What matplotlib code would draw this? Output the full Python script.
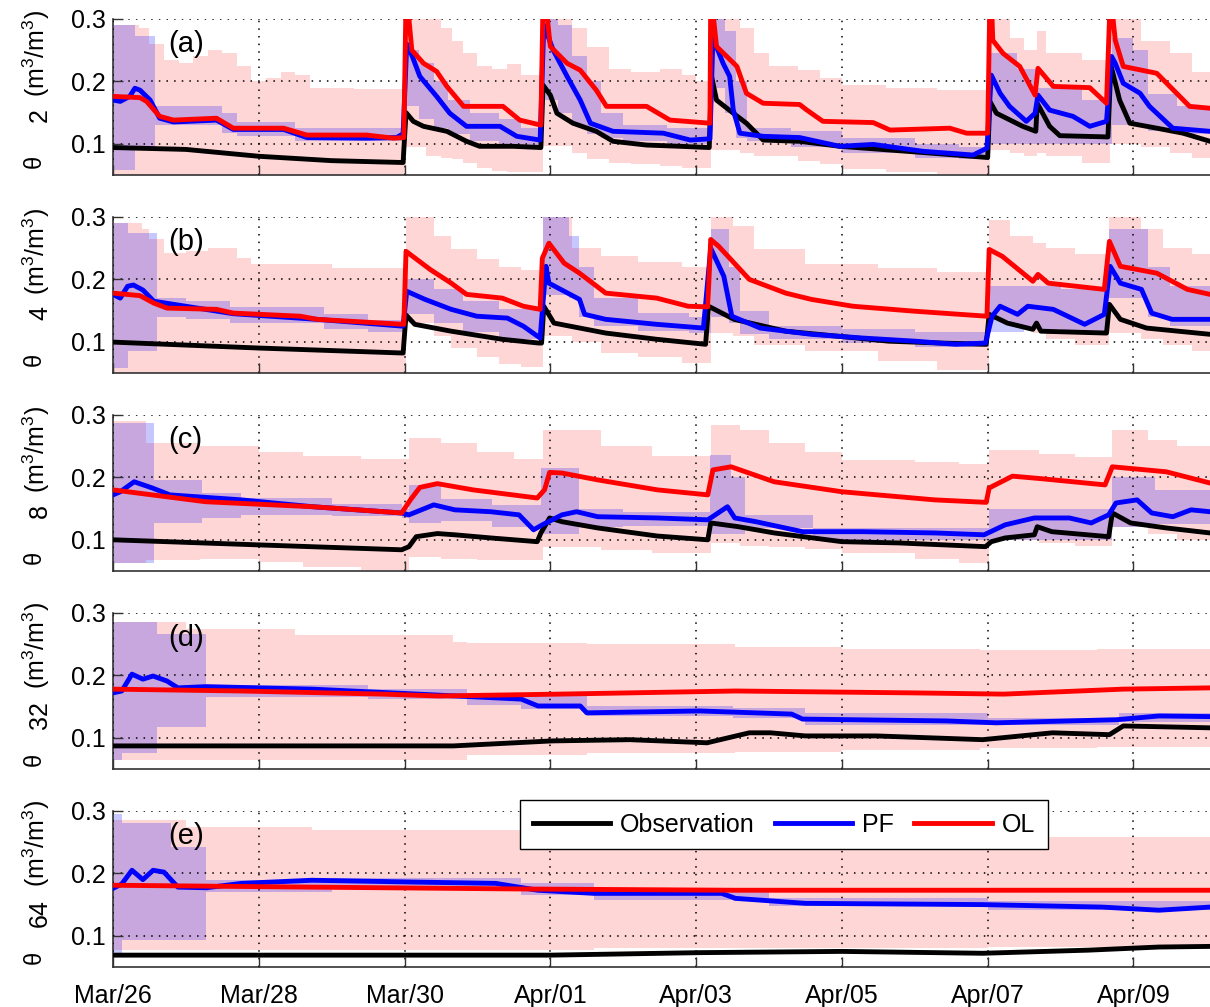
import matplotlib
matplotlib.use('Agg')
import matplotlib.pyplot as plt
import numpy as np
from matplotlib.lines import Line2D

plt.rcParams['font.family'] = ['Liberation Sans', 'DejaVu Sans']
plt.rcParams['mathtext.fontset'] = 'custom'
plt.rcParams['mathtext.rm'] = 'Liberation Sans'
plt.rcParams['mathtext.it'] = 'Liberation Sans:italic'
plt.rcParams['font.size'] = 18

# time axis: days since Mar/26 00:00
tick_days = [0, 2, 4, 6, 8, 10, 12, 14]
tick_labels = ['Mar/26', 'Mar/28', 'Mar/30', 'Apr/01', 'Apr/03', 'Apr/05', 'Apr/07', 'Apr/09']
depths = ['2', '4', '8', '32', '64']
panel_tags = ['(a)', '(b)', '(c)', '(d)', '(e)']

# ---------------- panel (a): 2 cm ----------------
obs_a = [(0, 0.094), (1.0, 0.091), (2.0, 0.080), (3.0, 0.073), (3.98, 0.070), (4.02, 0.150),
         (4.12, 0.136), (4.26, 0.128), (4.58, 0.120), (4.85, 0.104), (5.03, 0.096), (5.49, 0.096),
         (5.87, 0.094), (5.9, 0.194), (6.0, 0.178), (6.09, 0.149), (6.31, 0.133), (6.63, 0.120),
         (6.86, 0.104), (7.32, 0.098), (7.78, 0.096), (8.18, 0.094), (8.21, 0.209), (8.28, 0.170),
         (8.51, 0.149), (8.69, 0.133), (8.92, 0.106), (9.42, 0.104), (9.97, 0.096), (10.66, 0.090),
         (11.34, 0.084), (12.0, 0.078), (12.03, 0.168), (12.12, 0.149), (12.48, 0.128), (12.66, 0.120),
         (12.68, 0.165), (12.85, 0.128), (12.99, 0.113), (13.65, 0.111), (13.69, 0.226), (13.81, 0.170),
         (13.95, 0.133), (14.32, 0.125), (14.68, 0.117), (15.05, 0.104)]
pf_a = [(0, 0.170), (0.1, 0.168), (0.23, 0.176), (0.3, 0.189), (0.37, 0.186), (0.51, 0.170),
        (0.64, 0.141), (0.83, 0.135), (1.42, 0.138), (1.65, 0.123), (2.34, 0.123), (2.66, 0.110),
        (3.48, 0.109), (3.89, 0.110), (3.98, 0.116), (4.03, 0.260), (4.1, 0.242), (4.21, 0.208),
        (4.44, 0.176), (4.62, 0.149), (4.85, 0.128), (5.31, 0.128), (5.54, 0.112), (5.86, 0.106),
        (5.91, 0.290), (6.04, 0.250), (6.23, 0.208), (6.41, 0.170), (6.55, 0.133), (6.86, 0.120),
        (7.55, 0.117), (7.92, 0.106), (8.19, 0.108), (8.23, 0.270), (8.37, 0.229), (8.46, 0.208),
        (8.51, 0.154), (8.6, 0.117), (8.92, 0.112), (9.42, 0.110), (9.97, 0.096), (10.43, 0.099),
        (11.11, 0.088), (11.8, 0.082), (11.99, 0.093), (12.05, 0.210), (12.17, 0.181), (12.3, 0.160),
        (12.53, 0.136), (12.65, 0.149), (12.69, 0.178), (12.85, 0.154), (13.17, 0.144), (13.4, 0.128),
        (13.63, 0.136), (13.7, 0.240), (13.75, 0.229), (13.86, 0.197), (14.09, 0.181), (14.22, 0.160),
        (14.54, 0.125), (15.05, 0.120)]
ol_a = [(0, 0.176), (0.37, 0.174), (0.46, 0.168), (0.64, 0.144), (0.83, 0.138), (1.42, 0.141),
        (1.65, 0.125), (2.34, 0.125), (2.66, 0.114), (3.48, 0.114), (3.85, 0.109), (3.99, 0.110),
        (4.02, 0.33), (4.06, 0.30), (4.1, 0.250), (4.26, 0.229), (4.44, 0.216), (4.58, 0.192),
        (4.81, 0.160), (5.35, 0.160), (5.58, 0.138), (5.87, 0.130), (5.9, 0.33), (5.96, 0.30),
        (6.0, 0.256), (6.23, 0.229), (6.41, 0.218), (6.63, 0.186), (6.77, 0.160), (7.32, 0.160),
        (7.64, 0.138), (8.19, 0.133), (8.2, 0.33), (8.24, 0.30), (8.28, 0.256), (8.42, 0.240),
        (8.56, 0.224), (8.69, 0.181), (8.92, 0.165), (9.42, 0.163), (9.52, 0.154), (9.74, 0.136),
        (10.43, 0.134), (10.66, 0.122), (11.48, 0.125), (11.71, 0.117), (12.0, 0.117), (12.03, 0.33),
        (12.06, 0.30), (12.07, 0.266), (12.21, 0.245), (12.44, 0.224), (12.65, 0.178), (12.69, 0.221),
        (12.9, 0.192), (13.4, 0.190), (13.63, 0.165), (13.68, 0.33), (13.72, 0.30), (13.75, 0.266),
        (13.86, 0.224), (14.32, 0.213), (14.77, 0.160), (15.05, 0.157)]
# ensemble ranges (day, low, high)
olb_a = [(0, 0.05, 0.29), (0.35, 0.05, 0.285), (0.5, 0.05, 0.26), (0.7, 0.05, 0.235), (0.9, 0.05, 0.23),
         (1.1, 0.05, 0.24), (1.3, 0.05, 0.25), (1.5, 0.05, 0.245), (1.7, 0.05, 0.225), (1.9, 0.05, 0.20),
         (2.1, 0.05, 0.205), (2.3, 0.05, 0.215), (2.5, 0.05, 0.21), (2.7, 0.05, 0.19), (3.3, 0.05, 0.188),
         (4.02, 0.095, 0.31), (4.3, 0.08, 0.31), (4.5, 0.078, 0.285), (4.65, 0.075, 0.265), (4.8, 0.07, 0.245),
         (5.0, 0.062, 0.225), (5.2, 0.056, 0.22), (5.4, 0.055, 0.228), (5.6, 0.055, 0.21), (5.9, 0.096, 0.31),
         (6.3, 0.085, 0.285), (6.5, 0.075, 0.255), (6.8, 0.07, 0.22), (7.1, 0.067, 0.215), (7.5, 0.065, 0.22),
         (7.8, 0.062, 0.21), (8.0, 0.062, 0.2), (8.2, 0.09, 0.31), (8.6, 0.085, 0.285), (8.8, 0.08, 0.245),
         (9.0, 0.08, 0.225), (9.4, 0.072, 0.218), (9.7, 0.067, 0.205), (10.0, 0.06, 0.195), (10.6, 0.055, 0.19),
         (11.3, 0.052, 0.186), (12.03, 0.09, 0.31), (12.3, 0.085, 0.27), (12.5, 0.08, 0.25), (12.67, 0.085, 0.28),
         (12.8, 0.08, 0.245), (13.3, 0.07, 0.235), (13.68, 0.1, 0.31), (14.1, 0.095, 0.265), (14.5, 0.085, 0.245),
         (14.8, 0.078, 0.215), (15.05, 0.075, 0.2)]
pfb_a = [(0, 0.058, 0.29), (0.3, 0.09, 0.272), (0.58, 0.13, 0.16), (1.5, 0.118, 0.15), (1.7, 0.113, 0.135),
         (2.5, 0.105, 0.125), (3.7, 0.105, 0.125), (4.02, 0.16, 0.25), (4.2, 0.14, 0.23), (4.4, 0.125, 0.2),
         (4.6, 0.115, 0.17), (4.9, 0.105, 0.15), (5.3, 0.1, 0.14), (5.6, 0.095, 0.125), (5.9, 0.17, 0.3),
         (6.1, 0.15, 0.29), (6.3, 0.13, 0.24), (6.5, 0.115, 0.2), (6.7, 0.11, 0.15), (7.0, 0.105, 0.13),
         (7.6, 0.1, 0.125), (8.2, 0.19, 0.3), (8.4, 0.15, 0.28), (8.55, 0.11, 0.2), (8.7, 0.105, 0.125),
         (9.3, 0.095, 0.12), (10.0, 0.085, 0.11), (11.0, 0.078, 0.1), (11.6, 0.075, 0.095), (12.03, 0.1, 0.245),
         (12.4, 0.1, 0.22), (12.68, 0.1, 0.19), (13.3, 0.1, 0.17), (13.7, 0.13, 0.27), (14.0, 0.13, 0.25),
         (14.2, 0.12, 0.18), (14.6, 0.115, 0.16), (15.05, 0.115, 0.16)]

# ---------------- panel (b): 4 cm ----------------
obs_b = [(0, 0.0995), (2.0, 0.09), (3.98, 0.082), (4.02, 0.143), (4.14, 0.128), (4.64, 0.117),
         (5.34, 0.104), (5.84, 0.098), (5.88, 0.098), (5.91, 0.157), (6.05, 0.130), (6.76, 0.114),
         (7.46, 0.104), (8.13, 0.096), (8.17, 0.157), (8.52, 0.136), (9.23, 0.117), (9.94, 0.109),
         (10.64, 0.101), (11.35, 0.098), (11.98, 0.096), (12.02, 0.144), (12.27, 0.130), (12.62, 0.120),
         (12.67, 0.13), (12.73, 0.117), (13.63, 0.114), (13.67, 0.16), (13.82, 0.136), (14.18, 0.122),
         (15.05, 0.112)]
pf_b = [(0, 0.176), (0.1, 0.17), (0.2, 0.189), (0.28, 0.191), (0.41, 0.183), (0.56, 0.165), (1.65, 0.145),
        (2.8, 0.136), (3.98, 0.125), (4.03, 0.181), (4.28, 0.168), (4.64, 0.152), (4.99, 0.141), (5.41, 0.138),
        (5.63, 0.125), (5.86, 0.106), (5.94, 0.221), (5.98, 0.194), (6.19, 0.181), (6.4, 0.168), (6.47, 0.144),
        (6.76, 0.136), (7.46, 0.128), (8.1, 0.122), (8.2, 0.25), (8.38, 0.205), (8.49, 0.141), (8.88, 0.122),
        (9.58, 0.112), (10.29, 0.106), (11.0, 0.101), (11.56, 0.096), (11.97, 0.098), (12.06, 0.141),
        (12.17, 0.157), (12.41, 0.144), (12.55, 0.157), (12.9, 0.152), (13.33, 0.128), (13.6, 0.144),
        (13.68, 0.221), (13.82, 0.194), (14.11, 0.184), (14.25, 0.146), (14.53, 0.136), (15.05, 0.136)]
ol_b = [(0, 0.178), (0.37, 0.174), (0.56, 0.162), (0.74, 0.154), (1.42, 0.152), (1.65, 0.146), (2.57, 0.141),
        (2.8, 0.136), (3.99, 0.128), (4.02, 0.245), (4.35, 0.216), (4.64, 0.194), (4.85, 0.176), (5.34, 0.17),
        (5.63, 0.157), (5.86, 0.152), (5.89, 0.234), (5.98, 0.258), (6.19, 0.226), (6.4, 0.21), (6.76, 0.178),
        (7.46, 0.17), (7.89, 0.157), (8.16, 0.156), (8.2, 0.264), (8.31, 0.253), (8.73, 0.2), (9.23, 0.178),
        (9.58, 0.168), (10.15, 0.157), (11.0, 0.149), (11.99, 0.141), (12.02, 0.248), (12.2, 0.237),
        (12.62, 0.197), (12.69, 0.208), (12.83, 0.194), (13.6, 0.184), (13.67, 0.261), (13.82, 0.221),
        (14.32, 0.21), (14.74, 0.184), (15.05, 0.176)]
olb_b = [(0, 0.05, 0.29), (0.4, 0.05, 0.28), (0.5, 0.05, 0.265), (0.7, 0.05, 0.242), (1.0, 0.05, 0.245),
         (1.3, 0.05, 0.25), (1.7, 0.05, 0.235), (1.9, 0.05, 0.225), (3.0, 0.05, 0.218), (4.02, 0.13, 0.30),
         (4.4, 0.11, 0.27), (4.64, 0.09, 0.248), (5.0, 0.075, 0.232), (5.3, 0.065, 0.22), (5.6, 0.06, 0.215),
         (5.9, 0.11, 0.31), (6.3, 0.1, 0.25), (6.7, 0.082, 0.237), (7.2, 0.075, 0.228), (7.8, 0.066, 0.22),
         (8.2, 0.114, 0.31), (8.5, 0.11, 0.285), (8.8, 0.095, 0.248), (9.5, 0.085, 0.225), (10.5, 0.07, 0.218),
         (11.3, 0.055, 0.212), (12.02, 0.135, 0.295), (12.3, 0.125, 0.27), (12.62, 0.114, 0.258),
         (12.8, 0.104, 0.25), (13.2, 0.095, 0.24), (13.67, 0.114, 0.305), (14.1, 0.105, 0.28),
         (14.4, 0.095, 0.25), (14.8, 0.085, 0.24), (15.05, 0.082, 0.235)]
pfb_b = [(0, 0.058, 0.29), (0.2, 0.085, 0.274), (0.6, 0.14, 0.17), (1.0, 0.136, 0.165), (1.6, 0.13, 0.155),
         (2.9, 0.12, 0.145), (3.5, 0.115, 0.135), (4.02, 0.145, 0.2), (4.4, 0.13, 0.185), (4.8, 0.115, 0.165),
         (5.3, 0.104, 0.152), (5.9, 0.175, 0.3), (6.25, 0.17, 0.27), (6.4, 0.14, 0.22), (6.6, 0.125, 0.17),
         (7.2, 0.118, 0.146), (7.9, 0.114, 0.14), (8.2, 0.14, 0.28), (8.45, 0.13, 0.22), (8.6, 0.113, 0.15),
         (9.0, 0.104, 0.125), (10.0, 0.098, 0.12), (11.0, 0.092, 0.115), (12.02, 0.115, 0.19),
         (12.5, 0.12, 0.19), (13.0, 0.115, 0.185), (13.67, 0.17, 0.28), (14.2, 0.14, 0.22),
         (14.5, 0.125, 0.19), (15.05, 0.12, 0.165)]

# ---------------- panel (c): 8 cm ----------------
obs_c = [(0, 0.1), (1.96, 0.092), (3.96, 0.084), (4.06, 0.089), (4.16, 0.105), (4.45, 0.11), (4.69, 0.108),
         (5.18, 0.103), (5.82, 0.097), (5.87, 0.111), (5.99, 0.135), (6.16, 0.129), (6.65, 0.119),
         (7.47, 0.106), (8.16, 0.100), (8.2, 0.127), (8.58, 0.121), (9.07, 0.111), (10.0, 0.097),
         (10.78, 0.095), (11.97, 0.089), (12.05, 0.097), (12.24, 0.103), (12.64, 0.108), (12.68, 0.121),
         (12.88, 0.113), (13.66, 0.105), (13.71, 0.143), (13.96, 0.127), (14.45, 0.119), (15.05, 0.111)]
pf_c = [(0, 0.172), (0.1, 0.177), (0.29, 0.193), (0.54, 0.183), (0.78, 0.172), (1.76, 0.164), (2.74, 0.153),
        (3.96, 0.143), (4.06, 0.14), (4.4, 0.156), (4.69, 0.148), (5.18, 0.145), (5.57, 0.14), (5.77, 0.116),
        (5.89, 0.124), (6.16, 0.14), (6.36, 0.145), (6.65, 0.137), (7.47, 0.135), (8.16, 0.132), (8.43, 0.153),
        (8.53, 0.135), (8.82, 0.129), (9.46, 0.113), (10.29, 0.113), (11.27, 0.111), (11.95, 0.108),
        (12.24, 0.124), (12.64, 0.135), (13.12, 0.135), (13.42, 0.127), (13.66, 0.14), (13.76, 0.159),
        (14.05, 0.164), (14.25, 0.143), (14.54, 0.137), (14.79, 0.148), (15.05, 0.145)]
ol_c = [(0, 0.18), (1.27, 0.161), (2.74, 0.153), (3.96, 0.143), (4.08, 0.164), (4.21, 0.184), (4.45, 0.19),
        (4.94, 0.18), (5.82, 0.167), (5.92, 0.18), (5.99, 0.208), (6.16, 0.207), (6.65, 0.196), (7.47, 0.18),
        (8.16, 0.172), (8.23, 0.212), (8.48, 0.217), (9.07, 0.193), (10.0, 0.177), (11.27, 0.164),
        (11.98, 0.16), (12.02, 0.183), (12.34, 0.202), (12.73, 0.198), (13.61, 0.188), (13.71, 0.217),
        (14.45, 0.209), (15.05, 0.191)]
olb_c = [(0, 0.063, 0.29), (0.45, 0.068, 0.255), (1.2, 0.07, 0.25), (2.0, 0.065, 0.24), (2.6, 0.057, 0.235),
         (3.4, 0.052, 0.23), (4.06, 0.073, 0.263), (4.5, 0.07, 0.255), (5.0, 0.068, 0.24), (5.5, 0.068, 0.23),
         (5.9, 0.089, 0.276), (6.7, 0.084, 0.25), (7.4, 0.079, 0.235), (8.2, 0.095, 0.284), (8.6, 0.09, 0.276),
         (9.0, 0.088, 0.255), (9.5, 0.085, 0.24), (10.0, 0.079, 0.228), (11.0, 0.07, 0.224), (11.6, 0.063, 0.222),
         (12.02, 0.1, 0.244), (12.7, 0.095, 0.238), (13.2, 0.09, 0.232), (13.7, 0.121, 0.276), (14.2, 0.11, 0.26),
         (14.6, 0.1, 0.25), (15.05, 0.095, 0.24)]
pfb_c = [(0, 0.063, 0.287), (0.56, 0.127, 0.196), (1.22, 0.135, 0.175), (1.76, 0.14, 0.167), (3.0, 0.138, 0.158),
         (3.96, 0.135, 0.15), (4.06, 0.127, 0.188), (4.5, 0.13, 0.165), (5.2, 0.12, 0.155), (5.87, 0.11, 0.215),
         (6.4, 0.12, 0.15), (7.0, 0.122, 0.145), (8.19, 0.11, 0.236), (8.48, 0.11, 0.2), (8.67, 0.119, 0.14),
         (9.6, 0.1, 0.119), (12.02, 0.1, 0.15), (13.7, 0.121, 0.2), (14.3, 0.125, 0.18), (15.05, 0.125, 0.165)]

# ---------------- panel (d): 32 cm ----------------
obs_d = [(0, 0.087), (2.73, 0.087), (4.67, 0.087), (6.02, 0.095), (7.09, 0.097), (8.15, 0.092), (8.73, 0.108),
         (9.02, 0.108), (9.5, 0.103), (10.47, 0.103), (11.93, 0.097), (12.89, 0.108), (13.67, 0.105),
         (13.86, 0.119), (15.05, 0.116)]
pf_d = [(0, 0.172), (0.12, 0.175), (0.26, 0.202), (0.41, 0.194), (0.55, 0.199), (0.74, 0.191), (0.89, 0.18),
        (1.28, 0.182), (2.73, 0.178), (4.18, 0.17), (5.6, 0.162), (5.83, 0.151), (6.41, 0.151), (6.5, 0.14),
        (8.05, 0.143), (9.31, 0.138), (9.46, 0.13), (11.44, 0.127), (12.12, 0.124), (13.77, 0.129),
        (14.35, 0.135), (15.05, 0.134)]
ol_d = [(0, 0.178), (1.76, 0.175), (3.7, 0.17), (4.47, 0.167), (6.12, 0.17), (8.54, 0.175), (10.96, 0.172),
        (12.22, 0.17), (13.86, 0.178), (15.05, 0.18)]
olb_d = [(0, 0.065, 0.285), (1.0, 0.065, 0.275), (2.5, 0.065, 0.265), (4.67, 0.065, 0.253), (4.86, 0.073, 0.252),
         (6.5, 0.075, 0.25), (8.54, 0.078, 0.245), (10.0, 0.08, 0.243), (11.9, 0.083, 0.24), (13.5, 0.085, 0.243),
         (15.05, 0.087, 0.247)]
pfb_d = [(0, 0.065, 0.285), (0.12, 0.075, 0.285), (0.6, 0.118, 0.266), (1.28, 0.165, 0.185), (3.5, 0.162, 0.178),
         (4.86, 0.152, 0.172), (5.6, 0.146, 0.167), (6.5, 0.135, 0.151), (8.5, 0.132, 0.147), (9.5, 0.12, 0.14),
         (12.0, 0.12, 0.132), (13.8, 0.125, 0.14), (15.05, 0.13, 0.14)]

# ---------------- panel (e): 64 cm ----------------
obs_e = [(0, 0.069), (3.9, 0.069), (6.0, 0.069), (8.05, 0.073), (10.0, 0.075), (11.93, 0.072), (13.38, 0.077),
         (14.35, 0.082), (15.05, 0.083)]
pf_e = [(0, 0.176), (0.12, 0.183), (0.26, 0.205), (0.41, 0.19), (0.55, 0.205), (0.7, 0.202), (0.89, 0.178),
        (1.28, 0.177), (1.76, 0.184), (2.73, 0.189), (4.18, 0.186), (5.25, 0.184), (5.83, 0.173), (6.6, 0.168),
        (8.35, 0.168), (8.54, 0.16), (9.5, 0.152), (11.93, 0.15), (13.57, 0.146), (14.35, 0.141), (15.05, 0.146)]
ol_e = [(0, 0.181), (2.73, 0.178), (5.63, 0.175), (8.54, 0.173), (15.05, 0.173)]
olb_e = [(0, 0.077, 0.285), (1.0, 0.077, 0.275), (2.73, 0.077, 0.269), (5.6, 0.077, 0.264), (6.6, 0.08, 0.262),
         (9.5, 0.08, 0.262), (12.0, 0.082, 0.258), (15.05, 0.085, 0.256)]
pfb_e = [(0, 0.07, 0.295), (0.12, 0.093, 0.28), (0.8, 0.093, 0.242), (1.28, 0.17, 0.19), (3.0, 0.178, 0.192),
         (5.6, 0.165, 0.185), (6.6, 0.158, 0.176), (8.5, 0.155, 0.17), (9.0, 0.148, 0.16), (12.0, 0.142, 0.155),
         (15.05, 0.14, 0.152)]

panels = [
    (obs_a, pf_a, ol_a, olb_a, pfb_a),
    (obs_b, pf_b, ol_b, olb_b, pfb_b),
    (obs_c, pf_c, ol_c, olb_c, pfb_c),
    (obs_d, pf_d, ol_d, olb_d, pfb_d),
    (obs_e, pf_e, ol_e, olb_e, pfb_e),
]

ol_band_color = (1.0, 0.0, 0.0, 0.16)
pf_band_color = (0.0, 0.0, 1.0, 0.22)
lw = 3.5

W, H = 1210, 1007
fig = plt.figure(figsize=(W / 100, H / 100), dpi=100)
ax_left = 113 / W
ax_width = 1097 / W
ax_height = 156 / H
tops_px = [19, 217, 415, 613, 811]

axes = []
for i, (obs, pf, ol, olb, pfb) in enumerate(panels):
    top = tops_px[i]
    ax = fig.add_axes([ax_left, 1 - (top + 156) / H, ax_width, ax_height])
    axes.append(ax)

    olb = np.array(olb)
    pfb = np.array(pfb)
    ax.fill_between(olb[:, 0], olb[:, 1], olb[:, 2], step='post', color=ol_band_color,
                    linewidth=0, zorder=1)
    ax.fill_between(pfb[:, 0], pfb[:, 1], pfb[:, 2], step='post', color=pf_band_color,
                    linewidth=0, zorder=1.1)

    obs = np.array(obs)
    pf = np.array(pf)
    ol = np.array(ol)
    ax.plot(obs[:, 0], obs[:, 1], color='black', lw=lw, zorder=3)
    ax.plot(pf[:, 0], pf[:, 1], color='blue', lw=lw, zorder=3.1)
    ax.plot(ol[:, 0], ol[:, 1], color='red', lw=lw, zorder=3.2)

    ax.set_xlim(0, 15.05)
    ax.set_ylim(0.05, 0.3)
    ax.set_yticks([0.1, 0.2, 0.3])
    ax.set_yticklabels(['0.1', '0.2', '0.3'])
    ax.set_xticks(tick_days)
    if i == 4:
        ax.set_xticklabels(tick_labels)
    else:
        ax.set_xticklabels([])

    ax.set_axisbelow(False)
    ax.grid(True, color='black', linestyle=(0, (1, 4)), linewidth=1.1)
    ax.tick_params(direction='in', length=7, width=1, labelsize=18, color='#333333')
    ax.tick_params(axis='x', pad=12)
    ax.tick_params(axis='y', pad=5)
    for side in ['top', 'right']:
        ax.spines[side].set_visible(False)
    for side in ['left', 'bottom']:
        ax.spines[side].set_linewidth(1.2)
        ax.spines[side].set_color('#333333')

    # y label in MATLAB style: theta, spaced full-size subscript, units
    two = len(depths[i]) > 1
    fig.text(35 / W, 1 - (top + 142 + (4 if two else 0)) / H, 'θ', rotation=90, fontsize=17,
             ha='center', va='center', rotation_mode='anchor')
    fig.text(40 / W, 1 - (top + 96 + (6 if two else 0)) / H, depths[i], rotation=90, fontsize=18,
             ha='center', va='center', rotation_mode='anchor')
    fig.text(36 / W, 1 - (top + 34 - (2 if two else 0)) / H, '(m$^{3}$/m$^{3}$)', rotation=90,
             fontsize=18, ha='center', va='center', rotation_mode='anchor')

    ax.text(0.05, 0.84, panel_tags[i], transform=ax.transAxes, fontsize=21,
            ha='left', va='center', zorder=5)

handles = [Line2D([], [], color='black', lw=lw),
           Line2D([], [], color='blue', lw=lw),
           Line2D([], [], color='red', lw=lw)]
leg = axes[4].legend(handles, ['Observation', 'PF', 'OL'], ncol=3, loc='upper left',
                     bbox_to_anchor=(520 / W, 1 - 800 / H), bbox_transform=fig.transFigure,
                     fontsize=18, frameon=True, fancybox=False, framealpha=1, edgecolor='black',
                     handlelength=3.1, handletextpad=0.4, columnspacing=0.8, borderpad=0.5,
                     borderaxespad=0)
leg.get_frame().set_linewidth(1.0)
leg.set_zorder(10)

fig.savefig('out.png', dpi=100, facecolor='white')
